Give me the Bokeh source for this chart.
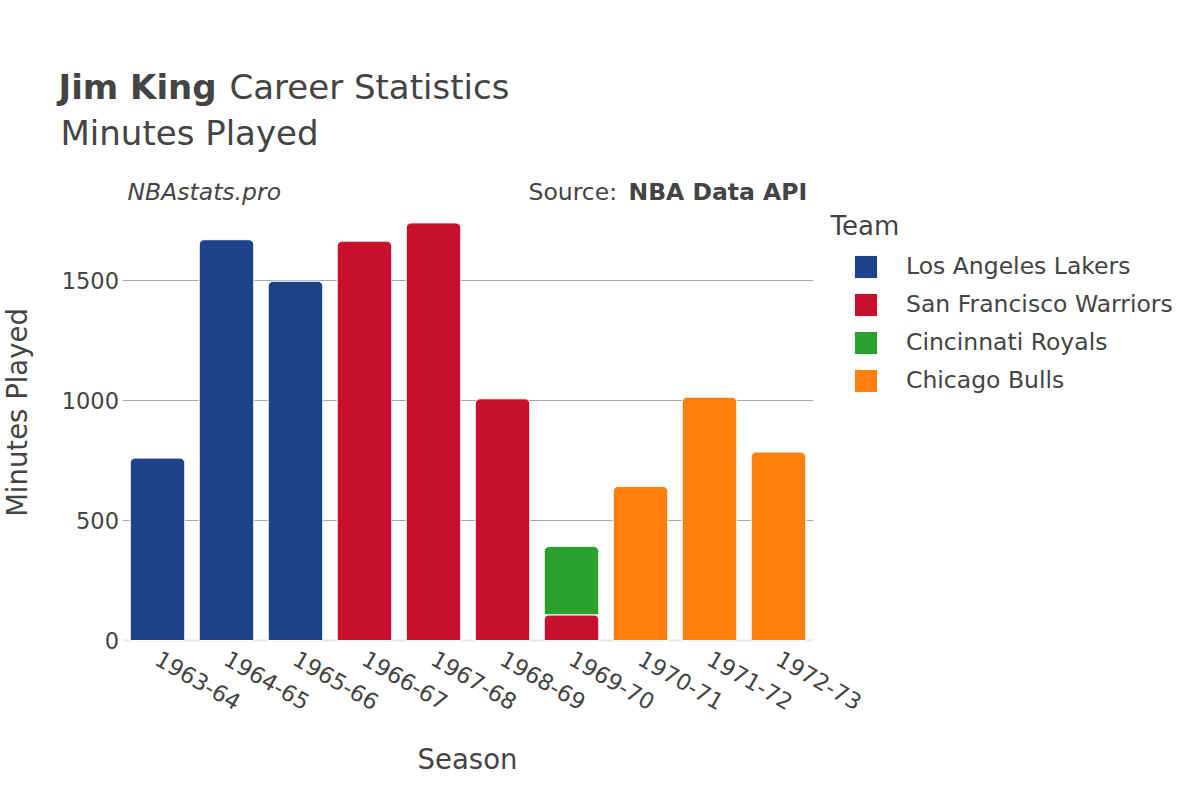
import math
from bokeh.plotting import figure
from bokeh.models import (ColumnDataSource, Range1d, FixedTicker,
                          Label, Legend, LegendItem)
from bokeh.embed import file_html
from bokeh.resources import INLINE

seasons = ["1963-64", "1964-65", "1965-66", "1966-67", "1967-68",
           "1968-69", "1969-70", "1970-71", "1971-72", "1972-73"]
teams = ["Los Angeles Lakers", "San Francisco Warriors", "Cincinnati Royals", "Chicago Bulls"]
team_colors = ["#1d428a", "#c8102e", "#2ca02c", "#ff7f0e"]
lakers = [760, 1670, 1497, 0, 0, 0, 0, 0, 0, 0]
warriors = [0, 0, 0, 1664, 1740, 1007, 107, 0, 0, 0]
royals = [0, 0, 0, 0, 0, 0, 285, 0, 0, 0]
bulls = [0, 0, 0, 0, 0, 0, 0, 642, 1014, 785]
y_ticks = [0, 500, 1000, 1500]

series = [lakers, warriors, royals, bulls]
positions = list(range(len(seasons)))

FONT = "DejaVu Sans"
TXT = "#444444"

# the plot frame covers the whole canvas
W, H = 1184, 784
X0_PAGE, X_STEP = 157.0, 69.0         # x of first category centre, px per category
Y0_PAGE, Y_SCALE = 640.0, 0.24        # y of value 0, px per minute

x_start = (0 - X0_PAGE) / X_STEP
x_end = (W - X0_PAGE) / X_STEP
y_end = Y0_PAGE / Y_SCALE
y_start = -(H - Y0_PAGE) / Y_SCALE

p = figure(width=W, height=H, x_range=Range1d(x_start, x_end), y_range=Range1d(y_start, y_end),
           output_backend="svg", toolbar_location=None, min_border=0)
p.outline_line_color = None
p.background_fill_color = "white"
p.border_fill_color = "white"
p.grid.visible = False

left_edge = positions[0] - 0.5
right_edge = positions[-1] + 0.5

# horizontal grid lines and zero line, limited to the category area
grid_vals = [t for t in y_ticks if t > 0]
p.segment(x0=[left_edge] * len(grid_vals), x1=[right_edge] * len(grid_vals),
          y0=grid_vals, y1=grid_vals, line_color="#a8a8a8", line_width=1, level="underlay")
p.segment(x0=[left_edge], x1=[right_edge], y0=[0], y1=[0],
          line_color="#e6e6e6", line_width=2, level="underlay")

legend_items = []
bottom = [0] * len(seasons)
for team, col, vals in zip(teams, team_colors, series):
    xs, tops, bots = [], [], []
    for i, v in enumerate(vals):
        if v > 0:
            xs.append(positions[i])
            bots.append(bottom[i])
            tops.append(bottom[i] + v)
    src = ColumnDataSource(dict(x=xs, top=tops, bottom=bots))
    r = p.vbar(x="x", top="top", bottom="bottom", width=0.79, source=src,
               fill_color=col, line_color="white", line_width=1,
               border_radius=[5, 5, 0, 0])
    legend_items.append(LegendItem(label=team, renderers=[r]))
    bottom = [b + v for b, v in zip(bottom, vals)]

# axes drawn at fixed data locations inside the frame
p.yaxis.fixed_location = left_edge
p.yaxis.ticker = FixedTicker(ticks=y_ticks)
p.yaxis.axis_line_color = None
p.yaxis.major_tick_line_color = None
p.yaxis.minor_tick_line_color = None
p.yaxis.major_tick_out = 0
p.yaxis.major_label_standoff = 4
p.yaxis.major_label_text_font = FONT
p.yaxis.major_label_text_font_size = "22.5px"
p.yaxis.major_label_text_color = TXT

p.xaxis.fixed_location = 0
p.xaxis.ticker = FixedTicker(ticks=positions)
p.xaxis.major_label_overrides = {i: s for i, s in zip(positions, seasons)}
p.xaxis.axis_line_color = None
p.xaxis.major_tick_line_color = None
p.xaxis.minor_tick_line_color = None
p.xaxis.major_tick_out = 0
p.xaxis.major_label_standoff = 16
p.xaxis.major_label_orientation = -0.5236
p.xaxis.major_label_text_font = FONT
p.xaxis.major_label_text_font_size = "22.5px"
p.xaxis.major_label_text_color = TXT

BASE_Y = H + 8   # empirical baseline offset of Label text


def lab(text, px, py, size, style="normal", align="left", baseline="alphabetic", angle=0.0):
    p.add_layout(Label(x=px, y=BASE_Y - py, x_units="screen", y_units="screen",
                       text=text, text_font=FONT, text_font_size=size, text_font_style=style,
                       text_color=TXT, text_align=align, text_baseline=baseline, angle=angle))


lab("Jim King", 58, 94, "34px", "bold")
lab("Career Statistics", 229, 94, "34px")
lab("Minutes Played", 60, 140, "34px")
lab("NBAstats.pro", 127, 199, "23.5px", "italic")
lab("Source: ", 528, 199, "23.5px")
lab("NBA Data API", 628, 199, "23.5px", "bold")
lab("Team", 830, 233, "26px")
lab("Season", 467, 766, "27.5px", align="center")
lab("Minutes Played", 16, 420, "27.5px", align="center", baseline="middle", angle=math.pi / 2)

legend = Legend(items=legend_items, location=(851, H - 394.5),
                glyph_width=29, glyph_height=29, label_height=23, spacing=9,
                label_standoff=26, padding=0, margin=0,
                label_text_font=FONT, label_text_font_size="23.5px", label_text_color=TXT,
                border_line_color=None, background_fill_alpha=0)
p.add_layout(legend)

open("out.html", "w").write(file_html(p, INLINE))
